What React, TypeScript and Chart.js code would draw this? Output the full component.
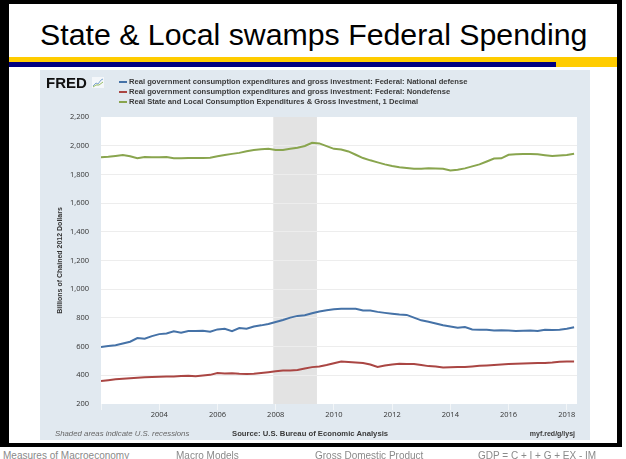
import React, { useEffect, useRef } from "react";
import { Chart, registerables } from "chart.js";

Chart.register(...registerables);

// ---- Data (quarterly, starting 2002 Q1) ----
const startYear = 2002;
const nationalDefense = [
  598, 604, 610, 622, 634, 660, 655, 673, 687, 692,
  706, 697, 708, 709, 710, 703, 720, 724, 708, 729,
  725, 740, 748, 758, 772, 785, 802, 814, 818, 832,
  845, 854, 861, 863, 864, 864, 851, 851, 842, 835,
  829, 823, 821, 802, 783, 773, 761, 749, 740, 731,
  736, 719, 717, 717, 712, 714, 712, 709, 710, 712,
  708, 718, 716, 718, 724, 735,
];
const nondefense = [
  361, 366, 372, 376, 380, 383, 386, 388, 390, 391,
  391, 395, 397, 393, 398, 403, 416, 412, 415, 410,
  409, 411, 416, 422, 428, 434, 433, 437, 448, 457,
  462, 472, 484, 496, 492, 489, 486, 475, 458, 468,
  476, 480, 479, 478, 471, 464, 462, 454, 456, 457,
  458, 462, 466, 469, 472, 476, 478, 480, 482, 484,
  486, 486, 489, 494, 497, 497,
];
const stateLocal = [
  1919, 1923, 1929, 1935, 1926, 1912, 1921, 1919, 1920, 1921,
  1913, 1913, 1914, 1914, 1915, 1916, 1926, 1935, 1943, 1950,
  1962, 1970, 1976, 1979, 1970, 1970, 1978, 1986, 1998, 2020,
  2016, 1997, 1978, 1974, 1960, 1937, 1914, 1898, 1884, 1870,
  1859, 1850, 1844, 1839, 1839, 1842, 1841, 1840, 1827, 1833,
  1842, 1856, 1870, 1890, 1910, 1912, 1937, 1941, 1943, 1943,
  1940, 1934, 1928, 1932, 1936, 1944,
];
const xTickYears = [2002, 2004, 2006, 2008, 2010, 2012, 2014, 2016, 2018];
const yMin = 200;
const yMax = 2200;
const yStep = 200;
const recessionStart = 2007.917;
const recessionEnd = 2009.417;
const xMax = 2018.35;

const seriesNames = [
  "Real government consumption expenditures and gross investment: Federal: National defense",
  "Real government consumption expenditures and gross investment: Federal: Nondefense",
  "Real State and Local Consumption Expenditures & Gross Investment, 1 Decimal",
];
const seriesColors = ["#4572a7", "#aa4643", "#89a54e"];

const toPoints = (arr: number[]) =>
  arr.map((v, i) => ({ x: startYear + i * 0.25, y: v }));

const bgPlugin = {
  id: "fredBg",
  beforeDraw(chart: any) {
    const { ctx, chartArea: a, scales } = chart;
    const x = scales.x;
    ctx.save();
    ctx.fillStyle = "#e1e9f0";
    ctx.fillRect(0, 0, chart.width, chart.height);
    ctx.fillStyle = "#ffffff";
    ctx.fillRect(a.left, a.top, a.right - a.left, a.bottom - a.top);
    const x0 = x.getPixelForValue(recessionStart);
    const x1 = x.getPixelForValue(recessionEnd);
    ctx.fillStyle = "#e3e3e3";
    ctx.fillRect(x0, a.top, x1 - x0, a.bottom - a.top);
    ctx.restore();
  },
};

function FredChart() {
  const ref = useRef<HTMLCanvasElement | null>(null);
  useEffect(() => {
    if (!ref.current) return;
    const tickFont = { family: "'Open Sans', sans-serif", size: 7.5 };
    const chart = new Chart(ref.current, {
      type: "line",
      data: {
        datasets: [
          {
            label: seriesNames[2],
            data: toPoints(stateLocal),
            borderColor: seriesColors[2],
            borderWidth: 2,
            pointRadius: 0,
            tension: 0,
          },
          {
            label: seriesNames[0],
            data: toPoints(nationalDefense),
            borderColor: seriesColors[0],
            borderWidth: 2,
            pointRadius: 0,
            tension: 0,
          },
          {
            label: seriesNames[1],
            data: toPoints(nondefense),
            borderColor: seriesColors[1],
            borderWidth: 2,
            pointRadius: 0,
            tension: 0,
          },
        ],
      },
      options: {
        responsive: false,
        devicePixelRatio: 1,
        animation: false,
        layout: { padding: { left: 0, top: 47, right: 13, bottom: 16 } },
        plugins: {
          legend: { display: false },
          tooltip: { enabled: false },
        },
        scales: {
          x: {
            type: "linear",
            min: startYear,
            max: xMax,
            afterBuildTicks: (s: any) => {
              s.ticks = xTickYears.map((v) => ({ value: v }));
            },
            afterFit: (s: any) => {
              s.height = 20;
            },
            border: { display: false },
            grid: {
              drawOnChartArea: false,
              drawTicks: true,
              tickLength: 6,
              color: "#f3f6f8",
              lineWidth: 1,
            },
            ticks: {
              autoSkip: false,
              maxRotation: 0,
              padding: 0,
              color: "#333333",
              font: tickFont,
              callback: (v: any) => (Number(v) === startYear ? "" : String(v)),
            },
          },
          y: {
            type: "linear",
            min: yMin,
            max: yMax,
            afterFit: (s: any) => {
              s.width = 61;
            },
            border: { display: false },
            grid: {
              drawTicks: false,
              color: (c: any) =>
                c.tick && (c.tick.value === yMin || c.tick.value === yMax)
                  ? "rgba(0,0,0,0)"
                  : "#ededed",
              lineWidth: 1,
            },
            ticks: {
              stepSize: yStep,
              padding: 12,
              color: "#333333",
              font: tickFont,
              callback: (v: any) => Number(v).toLocaleString("en-US"),
            },
            title: {
              display: true,
              text: "Billions of Chained 2012 Dollars",
              color: "#333333",
              font: { family: "'Liberation Sans', Arial, sans-serif", size: 7, weight: "bold" },
              padding: { top: 16, bottom: 0 },
            },
          },
        },
      },
      plugins: [bgPlugin],
    } as any);
    return () => chart.destroy();
  }, []);
  return (
    <canvas
      ref={ref}
      width={550}
      height={370}
      style={{ position: "absolute", left: 40, top: 70, width: 550, height: 370 }}
    />
  );
}

const abs = (o: React.CSSProperties): React.CSSProperties => ({
  position: "absolute",
  whiteSpace: "nowrap",
  ...o,
});

export default function App() {
  const sans = "'Liberation Sans', Arial, sans-serif";
  const legendRowsY = [82, 92, 102];
  return (
    <div
      style={{
        position: "fixed",
        left: 0,
        top: 0,
        width: 626,
        height: 459,
        overflow: "hidden",
        background: "#ffffff",
        fontFamily: sans,
      }}
    >
      {/* slide frame */}
      <div
        style={abs({
          left: 0,
          top: 0,
          width: 622,
          height: 447,
          boxSizing: "border-box",
          borderTop: "4px solid #000",
          borderLeft: "9px solid #000",
          borderRight: "5px solid #000",
          borderBottom: "4px solid #000",
        })}
      />
      {/* title */}
      <div
        style={abs({
          left: 40,
          top: 20,
          fontSize: 30.3,
          lineHeight: "30px",
          color: "#000",
        })}
      >
        State &amp; Local swamps Federal Spending
      </div>
      {/* stripes */}
      <div style={abs({ left: 9, top: 57, width: 608, height: 5, background: "#ffcc00" })} />
      <div style={abs({ left: 9, top: 62, width: 547, height: 5, background: "#000080" })} />
      <div style={abs({ left: 556, top: 62, width: 61, height: 5, background: "#ffcc00" })} />

      <FredChart />

      {/* FRED logo */}
      <div
        style={abs({
          left: 46,
          top: 75,
          fontSize: 15,
          lineHeight: "15px",
          fontWeight: "bold",
          color: "#111",
        })}
      >
        FRED
      </div>
      <svg style={{ position: "absolute", left: 92, top: 77 }} width={12} height={11}>
        <rect x={0} y={0} width={12} height={11} fill="#f4f7fa" />
        <polyline points="1,9 4,6 6,7 9,3 11,2" fill="none" stroke="#7fa6cf" strokeWidth={1} />
        <polyline points="1,10 4,8 7,8 11,5" fill="none" stroke="#98bd62" strokeWidth={1} />
      </svg>

      {/* legend */}
      {[0, 1, 2].map((k) => (
        <React.Fragment key={k}>
          <div
            style={abs({
              left: 119,
              top: legendRowsY[k] - 1,
              width: 8,
              height: 2,
              background: seriesColors[k],
            })}
          />
          <div
            style={abs({
              left: 129,
              top: legendRowsY[k] - 5.5,
              fontSize: 7.6,
              lineHeight: "10px",
              fontWeight: "bold",
              color: "#3a3a3a",
            })}
          >
            {seriesNames[k]}
          </div>
        </React.Fragment>
      ))}

      {/* chart footer */}
      <div
        style={abs({
          left: 55,
          top: 429,
          fontSize: 7.8,
          lineHeight: "10px",
          fontStyle: "italic",
          color: "#666",
        })}
      >
        Shaded areas indicate U.S. recessions
      </div>
      <div
        style={abs({
          left: 232,
          top: 429,
          fontSize: 7.7,
          lineHeight: "10px",
          fontWeight: "bold",
          color: "#3a3a3a",
        })}
      >
        Source: U.S. Bureau of Economic Analysis
      </div>
      <div
        style={abs({
          right: 626 - 575,
          top: 429,
          fontSize: 7,
          lineHeight: "10px",
          fontWeight: "bold",
          color: "#3a3a3a",
        })}
      >
        myf.red/g/lysj
      </div>

      {/* slide footer */}
      {[
        { t: "Measures of Macroeconomy", x: 3 },
        { t: "Macro Models", x: 176 },
        { t: "Gross Domestic Product", x: 315 },
        { t: "GDP = C + I + G + EX - IM", x: 478 },
      ].map((f) => (
        <div
          key={f.t}
          style={abs({
            left: f.x,
            top: 450.5,
            fontSize: 10,
            lineHeight: "10px",
            color: "#8a8a8a",
          })}
        >
          {f.t}
        </div>
      ))}
    </div>
  );
}
